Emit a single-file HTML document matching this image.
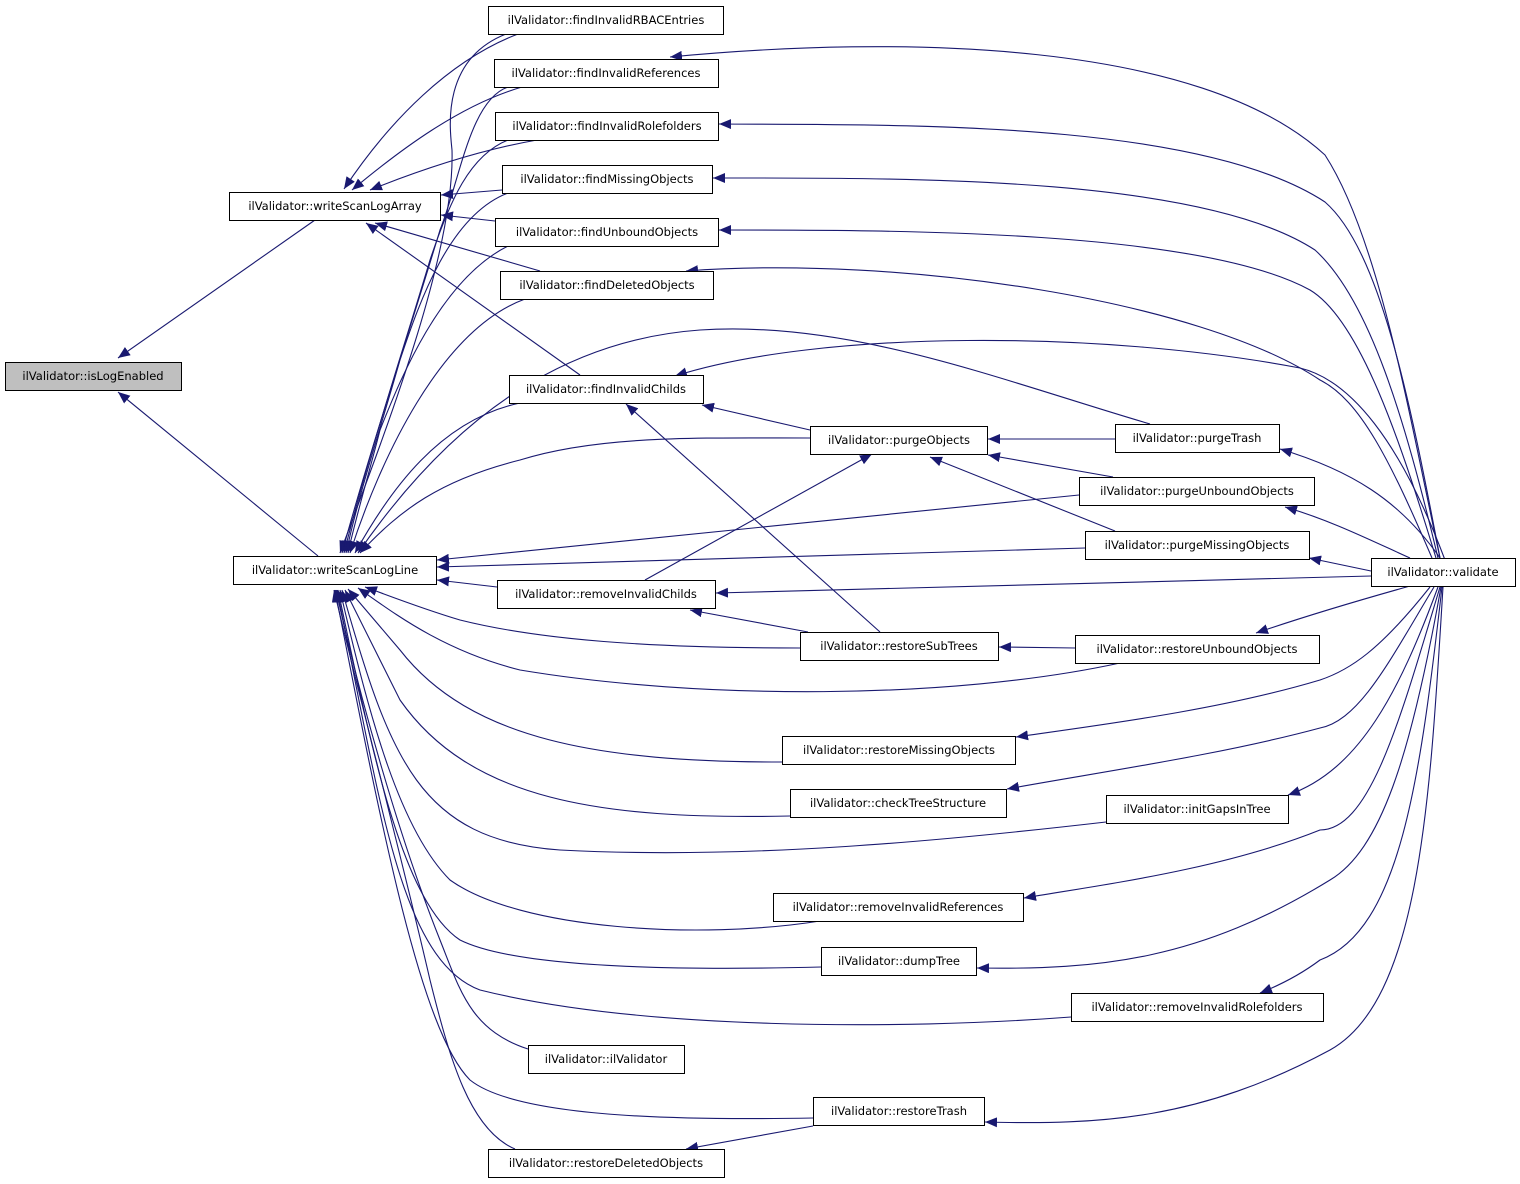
<!DOCTYPE html>
<html><head><meta charset="utf-8"><style>
html,body{margin:0;padding:0;background:#fff;}
svg{display:block;}
text{font-family:"DejaVu Sans","Liberation Sans",sans-serif;font-size:11.5px;fill:#000;}
</style></head><body>
<svg width="1520" height="1184" viewBox="0 0 1520 1184" xmlns="http://www.w3.org/2000/svg">
<defs>
<marker id="a" viewBox="0 0 12 10" refX="12" refY="5" markerWidth="12" markerHeight="10" markerUnits="userSpaceOnUse" orient="auto">
<path d="M0,0 L12,5 L0,10 z" fill="#191970"/>
</marker>
</defs>
<g fill="none" stroke="#191970" stroke-width="1.1" marker-end="url(#a)">
<!-- to isLogEnabled -->
<path d="M315,220 L118,358"/>
<path d="M318,556 L118,392"/>
<!-- to writeScanLogArray -->
<path d="M518,34 C450,60 390,120 344,189"/>
<path d="M522,87 C460,105 400,150 352,190"/>
<path d="M537,140 C480,150 420,170 370,190"/>
<path d="M502,190 L441,195"/>
<path d="M495,221 L441,215"/>
<path d="M540,271 L375,223"/>
<path d="M580,375 L366,223"/>
<!-- to writeScanLogLine from top group -->
<path d="M506,34 C440,60 450,130 452,150 C455,250 390,420 340,553"/>
<path d="M508,87 C470,100 460,180 440,230 C410,330 370,450 342,553"/>
<path d="M508,140 C470,155 450,200 430,260 C400,360 370,450 344,553"/>
<path d="M508,193 C450,215 420,300 400,360 C380,430 360,490 346,553"/>
<path d="M508,246 C440,280 400,380 380,430 C370,470 355,520 348,553"/>
<path d="M525,299 C440,330 380,460 350,553"/>
<path d="M520,403 C440,420 390,490 355,553"/>
<path d="M810,438 C700,438 600,435 520,460 C440,480 400,510 360,553"/>
<path d="M1150,424 C1000,380 850,320 700,330 C560,340 450,420 358,553"/>
<path d="M1079,495 L437,560"/>
<path d="M1085,548 L437,567"/>
<path d="M497,587 L437,580"/>
<path d="M800,648 C650,648 540,640 460,620 C420,608 390,596 365,587"/>
<path d="M1120,663 C950,700 700,700 520,670 C440,650 390,610 358,588"/>
<path d="M782,762 C600,762 470,740 400,650 L348,589"/>
<path d="M790,816 C600,820 470,800 400,700 L345,590"/>
<path d="M1106,822 C950,840 750,860 560,850 C420,840 390,760 342,590"/>
<path d="M820,921 C700,940 520,930 450,880 C400,830 370,720 340,590"/>
<path d="M821,967 C700,970 520,970 460,940 C400,900 370,740 338,590"/>
<path d="M1071,1017 C900,1030 640,1030 480,990 C400,960 380,800 337,590"/>
<path d="M528,1049 C470,1030 460,990 440,940 C400,840 360,700 336,590"/>
<path d="M813,1118 C700,1120 520,1120 470,1080 C420,1030 380,820 335,590"/>
<path d="M515,1149 C470,1130 450,1060 430,980 C400,850 360,700 334,590"/>
<!-- findInvalidChilds callers -->
<path d="M810,430 L702,405"/>
<path d="M880,632 L626,404"/>
<path d="M1445,560 C1400,440 1350,380 1300,368 C1100,330 820,330 675,376"/>
<!-- purgeObjects callers -->
<path d="M1115,439 L988,439"/>
<path d="M1113,477 L988,455"/>
<path d="M1115,531 L930,457"/>
<path d="M645,580 L872,454"/>
<!-- removeInvalidChilds callers -->
<path d="M1371,576 L716,593"/>
<path d="M808,632 L690,610"/>
<!-- restoreSubTrees caller -->
<path d="M1075,648 L999,647"/>
<!-- validate to upper -->
<path d="M1440,558 C1410,420 1380,240 1325,155 C1200,40 900,35 670,57"/>
<path d="M1440,558 C1410,400 1380,250 1325,202 C1200,120 900,125 719,124"/>
<path d="M1438,558 C1405,420 1370,300 1315,250 C1200,175 900,178 713,178"/>
<path d="M1436,558 C1400,440 1360,320 1310,290 C1200,230 900,230 719,230"/>
<path d="M1432,558 C1390,460 1360,400 1320,380 C1200,300 900,255 686,271"/>
<!-- validate to right column -->
<path d="M1440,558 C1400,500 1350,470 1280,449"/>
<path d="M1410,558 C1370,540 1330,520 1285,507"/>
<path d="M1371,571 L1309,558"/>
<path d="M1410,586 C1360,600 1300,618 1256,633"/>
<path d="M1430,587 C1380,650 1350,670 1320,680 C1220,710 1100,725 1016,737"/>
<path d="M1434,587 C1390,660 1360,720 1320,728 C1220,755 1100,772 1007,789"/>
<path d="M1438,587 C1400,690 1360,770 1288,795"/>
<path d="M1440,587 C1400,720 1370,830 1320,830 C1220,870 1100,885 1024,898"/>
<path d="M1441,587 C1410,760 1380,850 1330,880 C1200,960 1100,970 977,968"/>
<path d="M1442,587 C1420,780 1400,930 1320,960 C1300,975 1280,985 1260,993"/>
<path d="M1443,587 C1430,800 1420,1000 1330,1050 C1200,1120 1100,1125 985,1122"/>
<path d="M813,1126 L686,1149"/>
</g>
<g stroke="#000" stroke-width="1" fill="#fff">
<rect x="5.5" y="362.5" width="176" height="28" fill="#bfbfbf"/>
<rect x="229.5" y="192.5" width="211" height="28"/>
<rect x="233.5" y="556.5" width="203" height="28"/>
<rect x="488.5" y="6.5" width="235" height="28"/>
<rect x="494.5" y="59.5" width="224" height="28"/>
<rect x="495.5" y="112.5" width="223" height="28"/>
<rect x="502.5" y="165.5" width="210" height="28"/>
<rect x="495.5" y="218.5" width="223" height="28"/>
<rect x="500.5" y="271.5" width="213" height="28"/>
<rect x="509.5" y="375.5" width="194" height="28"/>
<rect x="810.5" y="426.5" width="177" height="28"/>
<rect x="1115.5" y="424.5" width="164" height="28"/>
<rect x="1079.5" y="477.5" width="235" height="28"/>
<rect x="1085.5" y="531.5" width="224" height="28"/>
<rect x="1371.5" y="558.5" width="144" height="28"/>
<rect x="497.5" y="580.5" width="218" height="28"/>
<rect x="800.5" y="632.5" width="198" height="28"/>
<rect x="1075.5" y="635.5" width="244" height="28"/>
<rect x="782.5" y="736.5" width="233" height="28"/>
<rect x="790.5" y="789.5" width="216" height="28"/>
<rect x="1106.5" y="795.5" width="182" height="28"/>
<rect x="773.5" y="893.5" width="250" height="28"/>
<rect x="821.5" y="947.5" width="155" height="28"/>
<rect x="1071.5" y="993.5" width="252" height="28"/>
<rect x="528.5" y="1045.5" width="156" height="28"/>
<rect x="813.5" y="1097.5" width="171" height="28"/>
<rect x="488.5" y="1149.5" width="236" height="28"/>
</g>
<g text-anchor="middle">
<text x="93" y="380">ilValidator::isLogEnabled</text>
<text x="335" y="210">ilValidator::writeScanLogArray</text>
<text x="335" y="574">ilValidator::writeScanLogLine</text>
<text x="606" y="24">ilValidator::findInvalidRBACEntries</text>
<text x="606" y="77">ilValidator::findInvalidReferences</text>
<text x="607" y="130">ilValidator::findInvalidRolefolders</text>
<text x="607" y="183">ilValidator::findMissingObjects</text>
<text x="607" y="236">ilValidator::findUnboundObjects</text>
<text x="607" y="289">ilValidator::findDeletedObjects</text>
<text x="606" y="393">ilValidator::findInvalidChilds</text>
<text x="899" y="444">ilValidator::purgeObjects</text>
<text x="1197" y="442">ilValidator::purgeTrash</text>
<text x="1197" y="495">ilValidator::purgeUnboundObjects</text>
<text x="1197" y="549">ilValidator::purgeMissingObjects</text>
<text x="1443" y="576">ilValidator::validate</text>
<text x="606" y="598">ilValidator::removeInvalidChilds</text>
<text x="899" y="650">ilValidator::restoreSubTrees</text>
<text x="1197" y="653">ilValidator::restoreUnboundObjects</text>
<text x="899" y="754">ilValidator::restoreMissingObjects</text>
<text x="898" y="807">ilValidator::checkTreeStructure</text>
<text x="1197" y="813">ilValidator::initGapsInTree</text>
<text x="898" y="911">ilValidator::removeInvalidReferences</text>
<text x="899" y="965">ilValidator::dumpTree</text>
<text x="1197" y="1011">ilValidator::removeInvalidRolefolders</text>
<text x="606" y="1063">ilValidator::ilValidator</text>
<text x="899" y="1115">ilValidator::restoreTrash</text>
<text x="606" y="1167">ilValidator::restoreDeletedObjects</text>
</g>
</svg>
</body></html>
